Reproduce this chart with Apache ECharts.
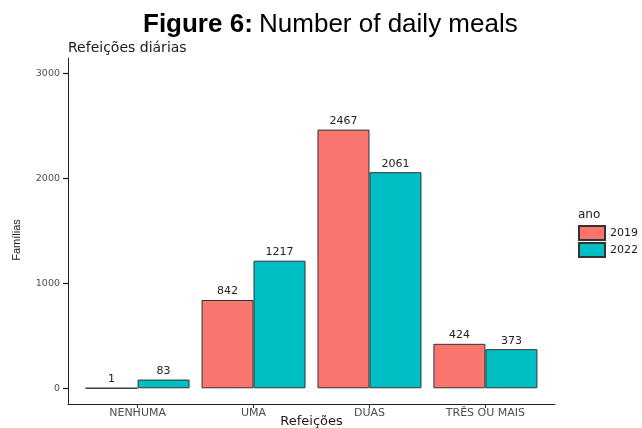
<!DOCTYPE html>
<html>
<head>
<meta charset="utf-8">
<script src="https://cdn.jsdelivr.net/npm/echarts@6/dist/echarts.min.js"></script>
<style>html,body{margin:0;padding:0;background:#fff}#c{width:642px;height:428px}</style>
</head>
<body>
<div id="c"></div>
<script>
const categories = ['NENHUMA', 'UMA', 'DUAS', 'TRÊS OU MAIS'];
const years = ['2019', '2022'];
const values2019 = [1, 842, 2467, 424];
const values2022 = [83, 1217, 2061, 373];
const yTicks = [0, 1000, 2000, 3000];

const chart = echarts.init(document.getElementById('c'), null, {renderer: 'canvas'});
const font = 'Liberation Sans, Arial, sans-serif';
const wfont = 'DejaVu Sans, Verdana, sans-serif';
const yMin = -150, yMax = 3150;
const gTop = 58, gBottom = 24;
const option = {
  animation: false,
  backgroundColor: '#fff',
  textStyle: {fontFamily: wfont},
  title: [
    {
      text: '{b|Figure 6:} {n|Number of daily meals}',
      left: 143, top: 12, padding: 0,
      textStyle: {rich: {
        b: {fontSize: 26, fontWeight: 'bold', color: '#000', fontFamily: font},
        n: {fontSize: 26, fontWeight: 'normal', color: '#000', fontFamily: font}
      }}
    },
    {
      text: 'Refeições diárias', left: 68, top: 41, padding: 0,
      textStyle: {fontSize: 14, fontWeight: 'normal', color: '#1a1a1a', fontFamily: wfont}
    },
    {
      text: 'ano', left: 578, top: 209, padding: 0,
      textStyle: {fontSize: 12, fontWeight: 'normal', color: '#1a1a1a', fontFamily: wfont}
    }
  ],
  graphic: [
    {
      type: 'text', x: 17, y: 240, rotation: Math.PI / 2,
      style: {text: 'Famílias', align: 'center', verticalAlign: 'middle',
              font: '11px Liberation Sans, Arial, sans-serif', fill: '#1a1a1a'}
    },
    {
      type: 'text', x: 311.5, y: 422,
      style: {text: 'Refeições', align: 'center', verticalAlign: 'middle',
              font: '13px DejaVu Sans, Verdana, sans-serif', fill: '#1a1a1a'}
    }
  ],
  legend: {
    orient: 'vertical', left: 578, top: 225, padding: 0,
    itemWidth: 26, itemHeight: 14, itemGap: 1,
    icon: 'rect',
    data: years,
    textStyle: {fontSize: 11, color: '#1a1a1a', fontFamily: wfont}
  },
  grid: [
    {left: 68, right: 87, top: gTop, bottom: gBottom, containLabel: false, outerBoundsMode: 'none'},
    {left: 79.6, right: 98.6, top: gTop, bottom: gBottom, containLabel: false, outerBoundsMode: 'none'}
  ],
  xAxis: [
    {
      gridIndex: 0, type: 'value', min: 0, max: 1,
      axisLine: {show: true, onZero: false, lineStyle: {color: '#222', width: 1}},
      axisTick: {show: false}, axisLabel: {show: false}, splitLine: {show: false}
    },
    {
      gridIndex: 1, type: 'category', data: categories,
      axisLine: {show: false, onZero: false},
      axisTick: {show: true, alignWithLabel: true, length: 4, lineStyle: {color: '#333'}},
      axisLabel: {color: '#4d4d4d', fontSize: 11, margin: 4, fontFamily: wfont}
    }
  ],
  yAxis: [
    {
      gridIndex: 0, type: 'value', min: yMin, max: yMax,
      axisLine: {show: true, onZero: false, lineStyle: {color: '#222', width: 1}},
      axisTick: {show: true, length: 5, customValues: yTicks, lineStyle: {color: '#111', width: 1.2}},
      axisLabel: {color: '#4d4d4d', fontSize: 9.5, margin: 8, customValues: yTicks, fontFamily: wfont,
                  formatter: function (v) { return String(v); }},
      splitLine: {show: false}
    },
    {
      gridIndex: 1, type: 'value', min: yMin, max: yMax, show: false,
      splitLine: {show: false}
    }
  ],
  series: [
    {
      name: years[0], type: 'bar', xAxisIndex: 1, yAxisIndex: 1,
      data: values2019, barWidth: 52, barGap: '0%',
      itemStyle: {color: '#F8766D', borderColor: '#333', borderWidth: 1},
      label: {show: true, position: 'top', distance: 3, color: '#222', fontSize: 11, fontFamily: wfont}
    },
    {
      name: years[1], type: 'bar', xAxisIndex: 1, yAxisIndex: 1,
      data: values2022, barWidth: 52, barGap: '0%',
      itemStyle: {color: '#00BFC4', borderColor: '#333', borderWidth: 1},
      label: {show: true, position: 'top', distance: 3, color: '#222', fontSize: 11, fontFamily: wfont}
    }
  ]
};
chart.setOption(option);
</script>
</body>
</html>
